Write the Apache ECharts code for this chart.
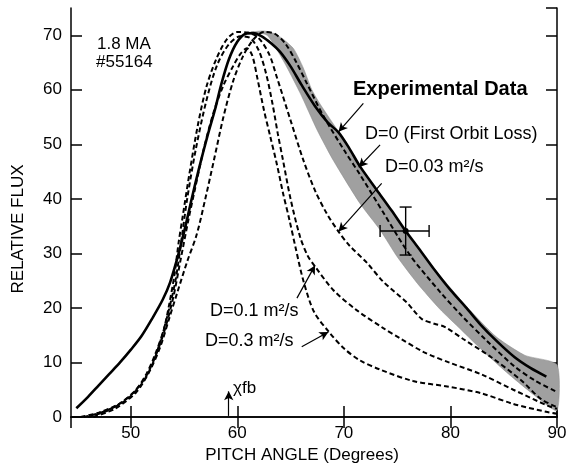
<!DOCTYPE html>
<html>
<head>
<meta charset="utf-8">
<script src="https://cdn.jsdelivr.net/npm/echarts@6/dist/echarts.min.js"></script>
<style>
html, body { margin: 0; padding: 0; background: #fff; }
#chart { width: 567px; height: 464px; }
</style>
</head>
<body>
<div id="chart"></div>
<script>
// experimental fit (solid line), [pitch angle, relative flux]
var experimental = [
  [44.9, 1.6], [46, 3.7], [47, 5.8], [48, 7.9], [49, 10], [50, 12.3], [51, 14.8], [52, 18],
  [53, 21.5], [53.7, 24.7], [54.5, 30], [55.2, 35.5], [55.7, 39.8], [56.4, 45.5], [57.2, 51.5],
  [57.9, 56.3], [58.5, 61], [59.2, 65.5], [60, 68.8], [60.8, 70.3], [61.5, 70.4], [62.3, 69.8],
  [63.2, 68.5], [64, 67], [65, 64.3], [66, 61], [67.3, 57], [68.5, 54], [69.5, 52.2], [70.5, 49.3],
  [71.5, 46], [73.1, 41.6], [74.5, 37.8], [75.8, 34.1], [77, 31], [78.5, 27], [80, 23.3],
  [81.5, 20], [82.8, 17], [84.3, 14], [86, 11], [87.5, 9], [89, 7.4]
]

// shaded band of experimental data
var bandUpper = [
  [61.3, 70.6], [62.5, 70.8], [63.5, 70.3], [64.3, 69.3], [65.3, 67.5], [66.2, 64], [67, 60],
  [67.8, 57.3], [69.5, 52.3], [71.5, 46.1], [73.1, 41.7], [75.8, 34.2], [78.5, 27.2],
  [81.5, 20.3], [84.3, 14.7], [87, 11.3], [90, 9.6]
]
var bandLower = [
  [61.3, 70.6], [62.8, 70], [64.3, 65.4], [65.9, 59.4], [67.5, 52.6], [69, 47.1], [71.5, 39.2],
  [73.4, 34.3], [75, 29.4], [76.9, 24.5], [79, 19.8], [81, 16], [83, 12.2], [85.5, 7.8],
  [88, 3.8], [90, 1.2]
]

// model curves (dashed)
var d0 = [
  [46.5, 0], [48.5, 1.5], [50.5, 4.5], [51.8, 8.5], [52.8, 13], [53.6, 18], [54.4, 23], [55.3, 28.5],
  [56.2, 33.5], [57, 40], [57.8, 47], [58.7, 55], [59.6, 61.5], [60.5, 66], [61.5, 69.2],
  [62.5, 70.6], [63.5, 70.3], [64.5, 68.5], [65.5, 65.2], [66.5, 61.3], [68, 55.5], [70, 49],
  [71.5, 44.5], [73.7, 37.5], [76.2, 29.7], [79, 23], [81, 18.7], [83.4, 14], [86, 9.3],
  [88, 6.6], [90, 4.6]
]
var d003 = [
  [45.3, 0], [47, 0.8], [49, 2.5], [50.5, 5], [51.5, 8], [52.3, 11.5], [53.1, 16], [53.6, 20.5],
  [54.1, 26], [54.5, 32], [54.9, 37], [55.5, 44.5], [56.3, 53.5], [57.1, 60.5], [58, 65.5],
  [59, 69.2], [60, 70.6], [61, 70.5], [62, 69.5], [63, 66.5], [63.7, 62.4], [65, 54.4],
  [66.2, 47.1], [67.3, 41.5], [68.4, 37.3], [69.5, 34], [70.5, 31.5], [72.2, 28.2], [73.7, 24.8],
  [75.9, 21], [77.3, 18], [78.5, 17.1], [79.5, 16.5], [81.2, 14.3], [83.8, 11], [86.6, 6.8],
  [88.5, 3.3], [90, 1.8]
]
var d01 = [
  [45.6, 0], [47.5, 1], [49.5, 3], [51, 6], [52, 9.5], [52.8, 14], [53.5, 19], [54.2, 25],
  [54.8, 33], [55.3, 40], [56.1, 49], [57.1, 58], [58.1, 64.5], [59.2, 68.3], [60.3, 69.8],
  [61.2, 69.5], [62, 67.3], [62.7, 63], [63.3, 57.5], [63.8, 52], [64.3, 47], [65, 40],
  [65.9, 33], [66.6, 29.6], [67.3, 27.6], [69, 23.3], [71.2, 19.6], [73.7, 16.3], [75.3, 14.4],
  [77.5, 11.9], [80, 9.9], [82.8, 7.9], [85.9, 5], [89.1, 2.1], [90, 1.5]
]
var d03 = [
  [46, 0], [48, 1.3], [50, 4], [51.3, 7], [52.3, 11], [53.2, 16], [54, 22], [54.7, 29],
  [55.4, 36], [56, 41.5], [56.9, 49.5], [57.8, 56], [58.7, 60.8], [59.6, 64.3], [60.3, 66.6],
  [60.9, 67.6], [61.4, 66.3], [61.9, 62], [62.5, 56.3], [63.1, 51.4], [63.7, 46.5], [64.3, 41],
  [64.9, 36.1], [65.5, 30.8], [66.2, 25], [67.2, 19.3], [68.6, 15.6], [70, 12.6], [71.5, 10.4],
  [73.4, 8.7], [76.5, 6.6], [79.7, 5.6], [82.8, 4.4], [85.9, 2.4], [89.1, 0.9], [90, 0.6]
]

// measured point with error bar: [x, y, xLow, xHigh, yLow, yHigh]
var errorPoint = [[75.8, 34.1, 73.4, 78.0, 29.7, 38.5]]

// annotation arrows in data coords: [from, to]
var arrows = [
  [[71.83, 57.5], [69.5, 52.3]],
  [[73.4, 49.9], [71.4, 45.8]],
  [[73.55, 42.85], [69.5, 34.0]],
  [[65.6, 21.8], [67.3, 27.8]],
  [[66.05, 12.9], [68.55, 15.6]],
  [[59.2, 0.2], [59.2, 4.7]]
]

var FONT = '"Liberation Sans", Arial, Helvetica, sans-serif'

var chart = echarts.init(document.getElementById('chart'), null, { renderer: 'canvas' })

function dashed (name, data) {
  return {
    name: name,
    type: 'line',
    data: data,
    smooth: 0.3,
    showSymbol: false,
    symbol: 'none',
    lineStyle: { color: '#000', width: 2, type: [5, 3] },
    z: 3,
    silent: true
  }
}

function axisLine () {
  return { show: true, lineStyle: { color: '#000', width: 1.5 } }
}
function axisTick () {
  return { show: true, inside: true, length: 11, lineStyle: { color: '#000', width: 1.5 } }
}

var option = {
  backgroundColor: '#fff',
  animation: false,
  grid: { left: 71, right: 10, top: 8, bottom: 47, containLabel: false, outerBoundsMode: 'none' },
  xAxis: [{
    type: 'value',
    position: 'bottom',
    min: 44.4,
    max: 90,
    splitNumber: 5,
    name: 'PITCH ANGLE (Degrees)',
    nameLocation: 'middle',
    nameGap: 26,
    nameTextStyle: { fontFamily: FONT, fontSize: 17, color: '#000', padding: [0, 24, 0, 0] },
    axisLine: axisLine(),
    axisTick: axisTick(),
    splitLine: { show: false },
    axisLabel: { showMinLabel: false, fontFamily: FONT, fontSize: 17, color: '#000', margin: 8 }
  }, {
    type: 'value',
    position: 'top',
    min: 44.4,
    max: 90,
    splitNumber: 5,
    axisLine: axisLine(),
    axisTick: axisTick(),
    splitLine: { show: false },
    axisLabel: { show: false }
  }],
  yAxis: [{
    type: 'value',
    position: 'left',
    min: 0,
    max: 75,
    interval: 10,
    axisLine: axisLine(),
    axisTick: axisTick(),
    splitLine: { show: false },
    axisLabel: { showMaxLabel: false, fontFamily: FONT, fontSize: 17, color: '#000', margin: 9 }
  }, {
    type: 'value',
    position: 'right',
    min: 0,
    max: 75,
    interval: 10,
    axisLine: axisLine(),
    axisTick: axisTick(),
    splitLine: { show: false },
    axisLabel: { show: false }
  }],
  series: [
    {
      name: 'band',
      type: 'custom',
      data: [bandUpper[0]],
      z: 1,
      silent: true,
      renderItem: function (params, api) {
        var pts = bandUpper.concat(bandLower.slice().reverse()).map(function (p) {
          return api.coord(p)
        })
        return {
          type: 'polygon',
          shape: { points: pts, smooth: 0.2 },
          style: { fill: '#a0a0a0', stroke: '#888', lineWidth: 0.5 }
        }
      }
    },
    dashed('D=0', d0),
    dashed('D=0.03', d003),
    dashed('D=0.1', d01),
    dashed('D=0.3', d03),
    {
      name: 'Experimental Data',
      type: 'line',
      data: experimental,
      smooth: 0.3,
      showSymbol: false,
      symbol: 'none',
      lineStyle: { color: '#000', width: 2.6 },
      z: 4,
      silent: true,
      markLine: {
        silent: true,
        symbol: ['none', 'arrow'],
        symbolSize: [7, 9],
        label: { show: false },
        lineStyle: { color: '#000', width: 1.2, type: 'solid' },
        data: arrows.map(function (a) {
          return [{ coord: a[0] }, { coord: a[1] }]
        })
      }
    },
    {
      name: 'error',
      type: 'custom',
      data: errorPoint,
      encode: { x: [0, 2, 3], y: [1, 4, 5] },
      z: 5,
      silent: true,
      renderItem: function (params, api) {
        var c = api.coord([api.value(0), api.value(1)])
        var l = api.coord([api.value(2), api.value(1)])
        var r = api.coord([api.value(3), api.value(1)])
        var b = api.coord([api.value(0), api.value(4)])
        var t = api.coord([api.value(0), api.value(5)])
        var cap = 6
        var st = { stroke: '#000', lineWidth: 1.4 }
        return {
          type: 'group',
          children: [
            { type: 'line', shape: { x1: l[0], y1: c[1], x2: r[0], y2: c[1] }, style: st },
            { type: 'line', shape: { x1: c[0], y1: b[1], x2: c[0], y2: t[1] }, style: st },
            { type: 'line', shape: { x1: r[0], y1: c[1] - cap, x2: r[0], y2: c[1] + cap }, style: st },
            { type: 'line', shape: { x1: l[0], y1: c[1] - cap, x2: l[0], y2: c[1] + cap }, style: st },
            { type: 'line', shape: { x1: c[0] - cap, y1: t[1], x2: c[0] + cap, y2: t[1] }, style: st },
            { type: 'line', shape: { x1: c[0] - cap, y1: b[1], x2: c[0] + cap, y2: b[1] }, style: st },
            { type: 'circle', shape: { cx: c[0], cy: c[1], r: 3 }, style: { fill: '#000' } }
          ]
        }
      }
    }
  ],
  graphic: [
    { type: 'text', x: 18, y: 229, rotation: Math.PI / 2, style: { text: 'RELATIVE FLUX', font: '17px ' + FONT, fill: '#000', align: 'center', verticalAlign: 'middle' } },
    { type: 'text', left: 97, top: 36, style: { text: '1.8 MA', font: '17px ' + FONT, fill: '#000' } },
    { type: 'text', left: 96, top: 54, style: { text: '#55164', font: '17px ' + FONT, fill: '#000' } },
    { type: 'text', left: 353, top: 79, style: { text: 'Experimental Data', font: 'bold 20px ' + FONT, fill: '#000' } },
    { type: 'text', left: 365, top: 125, style: { text: 'D=0 (First Orbit Loss)', font: '18px ' + FONT, fill: '#000' } },
    { type: 'text', left: 385, top: 158, style: { text: 'D=0.03 m²/s', font: '18px ' + FONT, fill: '#000' } },
    { type: 'text', left: 210, top: 302, style: { text: 'D=0.1 m²/s', font: '18px ' + FONT, fill: '#000' } },
    { type: 'text', left: 205, top: 332, style: { text: 'D=0.3 m²/s', font: '18px ' + FONT, fill: '#000' } },
    { type: 'text', left: 233, top: 380, style: { text: 'χfb', font: '17px ' + FONT, fill: '#000' } }
  ]
}

chart.setOption(option)
</script>
</body>
</html>
